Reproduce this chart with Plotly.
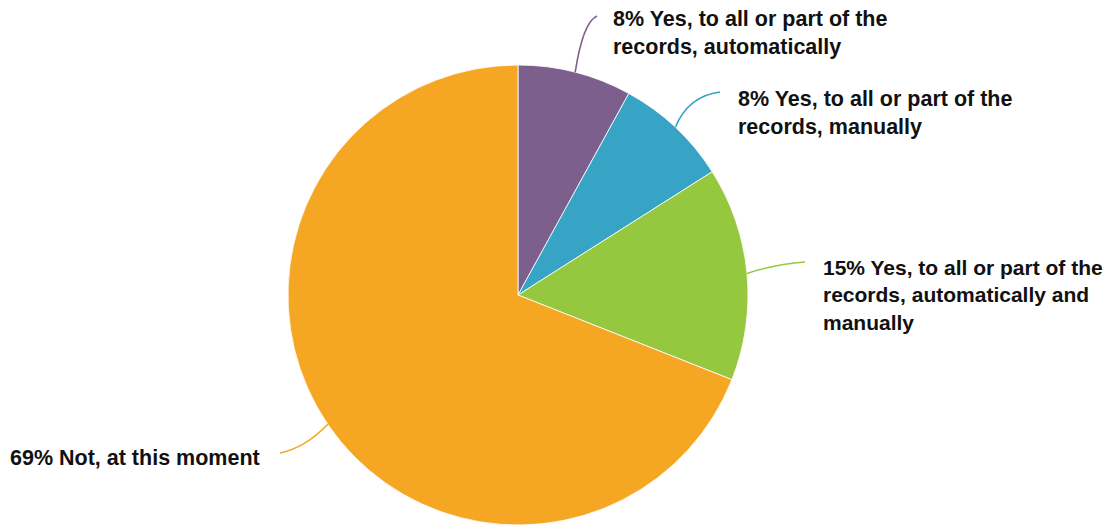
import math
import plotly.graph_objects as go

categories = [
    "Yes, to all or part of the<br>records, automatically",
    "Yes, to all or part of the<br>records, manually",
    "Yes, to all or part of the<br>records, automatically and<br>manually",
    "Not, at this moment",
]
values = [8, 8, 15, 69]
colors = ["#7D5F8E", "#37A3C5", "#95C83F", "#F5A623"]

W, H = 1112, 525
OFF = 8  # page body margin offset
CX, CY, R = 518, 295, 230

# label anchors (page pixel coords, top-left origin) and leader-line ends
label_pos = [(611, 33), (736, 113), (821, 295), (8, 458)]
leader_end = [(597, 16), (720, 92), (805, 262), (280, 453)]
leader_ctrl = [(583, 22), (688, 96), (776, 264), (305, 448)]
label_size = [21.5, 21.5, 21, 21.5]

fig = go.Figure()
fig.add_trace(go.Pie(
    labels=categories,
    values=values,
    sort=False,
    direction="clockwise",
    rotation=0,
    marker=dict(colors=colors, line=dict(color="white", width=0.8)),
    textinfo="none",
    hoverinfo="label+percent",
    showlegend=False,
    domain=dict(x=[(CX - OFF - R) / W, (CX - OFF + R) / W],
                y=[(H - (CY - OFF) - R) / H, (H - (CY - OFF) + R) / H]),
))

total = sum(values)
cum = 0
shapes = []
annotations = []
for i, v in enumerate(values):
    mid = (cum + v / 2) / total * 2 * math.pi
    cum += v
    sx = CX + R * math.sin(mid)
    sy = CY - R * math.cos(mid)
    ex, ey = leader_end[i]
    qx, qy = leader_ctrl[i]
    shapes.append(dict(
        type="path", xref="x", yref="y", layer="above",
        path=f"M {sx:.1f},{sy:.1f} Q {qx},{qy} {ex},{ey}",
        line=dict(color=colors[i], width=1.6),
    ))
    pct = round(v / total * 100)
    lx, ly = label_pos[i]
    annotations.append(dict(
        x=lx, y=ly, xref="x", yref="y",
        text=f"<b>{pct}% {categories[i]}</b>",
        showarrow=False, xanchor="left", yanchor="middle", align="left",
        font=dict(family="Liberation Sans, Arial, sans-serif", size=label_size[i], color="#111111"),
    ))

fig.update_layout(
    width=W, height=H,
    margin=dict(l=0, r=0, t=0, b=0),
    paper_bgcolor="white", plot_bgcolor="rgba(0,0,0,0)",
    xaxis=dict(range=[OFF, W + OFF], visible=False, fixedrange=True),
    yaxis=dict(range=[H + OFF, OFF], visible=False, fixedrange=True),
    shapes=shapes,
    annotations=annotations,
    showlegend=False,
)

fig.write_html("out.html")
